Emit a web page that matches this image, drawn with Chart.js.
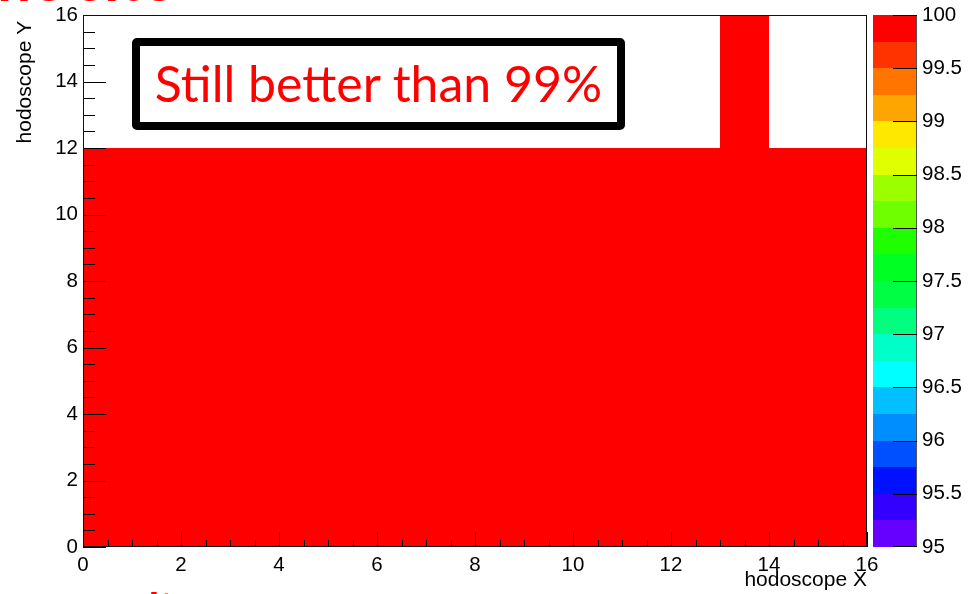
<!DOCTYPE html>
<html>
<head>
<meta charset="utf-8">
<title>Hodoscope efficiency</title>
<script src="https://cdn.jsdelivr.net/npm/chart.js@4.4.1/dist/chart.umd.min.js"></script>
<style>
  html, body { margin: 0; padding: 0; background: #fff; overflow: hidden; }
  #wrap { position: relative; width: 973px; height: 594px; overflow: hidden; }
  #c { position: absolute; left: 0; top: 0; }
  .note {
    position: absolute; left: 132px; top: 38px; width: 493px; height: 92px;
    box-sizing: border-box; border: 8px solid #000; border-radius: 5px; background: #fff;
    color: #f00; font-family: Lato, "Open Sans", sans-serif; font-size: 50px;
    line-height: 74px; text-align: center; white-space: nowrap;
  }
  .frag { position: absolute; color: #f00; font-family: Lato, sans-serif; font-weight: bold; white-space: nowrap; line-height: 1; }
</style>
</head>
<body>
<div id="wrap">
  <canvas id="c" width="973" height="594"></canvas>
  <div class="frag" style="left:-25px; top:-52px; font-size:60px;">the site</div>
  <div class="note">Still better than 99%</div>
  <div class="frag" style="left:148px; top:586px; font-size:40px;">It</div>
</div>
<script>
// Hodoscope bin edges (16 x 16 channels)
const xBinEdges = [0, 1, 2, 3, 4, 5, 6, 7, 8, 9, 10, 11, 12, 13, 14, 15, 16];
const yBinEdges = [0, 1, 2, 3, 4, 5, 6, 7, 8, 9, 10, 11, 12, 13, 14, 15, 16];

// Efficiency (%) per cell, row index = Y bin (bottom to top), column = X bin; null = no entry
const effRows = [
  [100, 100, 100, 100, 100, 100, 100, 100, 100, 100, 100, 100, 100, 100, 100, 100],
  [100, 100, 100, 100, 100, 100, 100, 100, 100, 100, 100, 100, 100, 100, 100, 100],
  [100, 100, 100, 100, 100, 100, 100, 100, 100, 100, 100, 100, 100, 100, 100, 100],
  [100, 100, 100, 100, 100, 100, 100, 100, 100, 100, 100, 100, 100, 100, 100, 100],
  [100, 100, 100, 100, 100, 100, 100, 100, 100, 100, 100, 100, 100, 100, 100, 100],
  [100, 100, 100, 100, 100, 100, 100, 100, 100, 100, 100, 100, 100, 100, 100, 100],
  [100, 100, 100, 100, 100, 100, 100, 100, 100, 100, 100, 100, 100, 100, 100, 100],
  [100, 100, 100, 100, 100, 100, 100, 100, 100, 100, 100, 100, 100, 100, 100, 100],
  [100, 100, 100, 100, 100, 100, 100, 100, 100, 100, 100, 100, 100, 100, 100, 100],
  [100, 100, 100, 100, 100, 100, 100, 100, 100, 100, 100, 100, 100, 100, 100, 100],
  [100, 100, 100, 100, 100, 100, 100, 100, 100, 100, 100, 100, 100, 100, 100, 100],
  [100, 100, 100, 100, 100, 100, 100, 100, 100, 100, 100, 100, 100, 100, 100, 100],
  [null, null, null, null, null, null, null, null, null, null, null, null, null, 100, null, null],
  [null, null, null, null, null, null, null, null, null, null, null, null, null, 100, null, null],
  [null, null, null, null, null, null, null, null, null, null, null, null, null, 100, null, null],
  [null, null, null, null, null, null, null, null, null, null, null, null, null, 100, null, null]
];

// Axis tick labels
const xTicks = [0, 2, 4, 6, 8, 10, 12, 14, 16];
const yTicks = [0, 2, 4, 6, 8, 10, 12, 14, 16];
const zTicks = [95, 95.5, 96, 96.5, 97, 97.5, 98, 98.5, 99, 99.5, 100];

// Colour scale: level edges and one colour per band (low to high)
const zLevels = [95, 95.25, 95.5, 95.75, 96, 96.25, 96.5, 96.75, 97, 97.25, 97.5,
                 97.75, 98, 98.25, 98.5, 98.75, 99, 99.25, 99.5, 99.75, 100];
const zColors = ['#6600ff', '#3300ff', '#0011ff', '#0050ff', '#008eff', '#00c0ff', '#00ffff',
                 '#00ffc8', '#00ff80', '#00ff44', '#00ff22', '#1eff00', '#70ff00', '#9cff00',
                 '#e0ff00', '#ffe800', '#ffa500', '#ff7500', '#ff3300', '#ff0000'];

function colorFor(v) {
  let k = zLevels.length - 2;
  for (let i = 0; i < zLevels.length - 1; i++) {
    if (v < zLevels[i + 1]) { k = i; break; }
  }
  return zColors[Math.max(0, k)];
}

const FONT = "'Liberation Sans', Arial, sans-serif";
Chart.defaults.font.family = FONT;
Chart.defaults.color = '#000';

function hLine(ctx, x0, x1, y) {
  const yy = Math.round(y) + 0.5;
  ctx.beginPath(); ctx.moveTo(x0, yy); ctx.lineTo(x1, yy); ctx.stroke();
}
function vLine(ctx, x, y0, y1) {
  const xx = Math.round(x) + 0.5;
  ctx.beginPath(); ctx.moveTo(xx, y0); ctx.lineTo(xx, y1); ctx.stroke();
}

// Draws the 2D histogram cells, the frame, inward tick marks and the colour bar
const histPlugin = {
  id: 'hist2d',
  beforeDatasetsDraw(chart) {
    const { ctx, scales: { x, y } } = chart;
    ctx.save();
    effRows.forEach((row, j) => {
      row.forEach((v, i) => {
        if (v === null) return;
        const x0 = Math.round(x.getPixelForValue(xBinEdges[i]));
        const x1 = Math.round(x.getPixelForValue(xBinEdges[i + 1]));
        const y0 = Math.round(y.getPixelForValue(yBinEdges[j + 1]));
        const y1 = Math.round(y.getPixelForValue(yBinEdges[j]));
        ctx.fillStyle = colorFor(v);
        ctx.fillRect(x0, y0, x1 - x0, y1 - y0);
      });
    });
    ctx.restore();
  },
  afterDraw(chart) {
    const { ctx, chartArea: a, scales: { x, y, z } } = chart;
    ctx.save();
    ctx.strokeStyle = '#000';
    ctx.lineWidth = 1;

    // tick marks pointing into the plot (major every 2, minor every 0.5)
    for (let v = 0; v <= 16.0001; v += 0.5) {
      const major = Math.abs(v / 2 - Math.round(v / 2)) < 1e-6;
      const py = y.getPixelForValue(v);
      hLine(ctx, a.left, a.left + (major ? 23 : 12), py);
      const px = x.getPixelForValue(v);
      vLine(ctx, px, a.bottom, a.bottom - (major ? 15 : 7));
    }

    // frame
    ctx.strokeStyle = '#111';
    ctx.strokeRect(Math.round(a.left) + 0.5, Math.round(a.top) + 0.5,
                   Math.round(a.right - a.left) - 1, Math.round(a.bottom - a.top) - 1);

    // colour bar
    const bl = Math.round(z.left) + 6, br = Math.round(z.left) + 50;
    for (let k = 0; k < zColors.length; k++) {
      const t = Math.round(z.getPixelForValue(zLevels[k + 1]));
      const b = Math.round(z.getPixelForValue(zLevels[k]));
      ctx.fillStyle = zColors[k];
      ctx.fillRect(bl, t, br - bl, b - t);
    }
    ctx.strokeStyle = '#555';
    vLine(ctx, br - 1, Math.round(z.getPixelForValue(100)), Math.round(z.getPixelForValue(95)));
    ctx.strokeStyle = '#000';
    zTicks.forEach(v => {
      let py = z.getPixelForValue(v);
      if (v === 95) py -= 1;
      hLine(ctx, br - 24, br, py);
    });
    ctx.restore();
  }
};

const tickFont = { family: FONT, size: 20.5 };
// invisible tick marks used only to offset the labels from the axis
const spacerGrid = (len) => ({ display: true, drawOnChartArea: false, drawTicks: true,
                               tickLength: len, color: 'rgba(0,0,0,0)' });

new Chart(document.getElementById('c'), {
  type: 'scatter',
  data: { datasets: [] },
  options: {
    responsive: false,
    animation: false,
    layout: { padding: { top: 15, left: 0, right: 0, bottom: 0 } },
    plugins: { legend: { display: false }, tooltip: { enabled: false } },
    scales: {
      x: {
        type: 'linear', position: 'bottom', min: 0, max: 16,
        afterBuildTicks: s => { s.ticks = xTicks.map(v => ({ value: v })); },
        afterFit: s => { s.height = 47; },
        grid: spacerGrid(6), border: { display: false },
        ticks: { font: tickFont, color: '#000', padding: 0, maxRotation: 0, autoSkip: false },
        title: { display: true, text: 'hodoscope X', align: 'end', color: '#000',
                 font: { family: FONT, size: 21 }, padding: { top: 0, bottom: 1 } }
      },
      y: {
        type: 'linear', position: 'left', min: 0, max: 16,
        afterBuildTicks: s => { s.ticks = yTicks.map(v => ({ value: v })); },
        afterFit: s => { s.width = 83; },
        grid: spacerGrid(5), border: { display: false },
        ticks: { font: tickFont, color: '#000', padding: 0, autoSkip: false },
        title: { display: true, text: 'hodoscope Y ', align: 'end', color: '#000',
                 font: { family: FONT, size: 21 }, padding: { top: 13, bottom: 0 } }
      },
      z: {
        type: 'linear', position: 'right', min: 95, max: 100,
        afterBuildTicks: s => { s.ticks = zTicks.map(v => ({ value: v })); },
        afterFit: s => { s.width = 106; },
        grid: spacerGrid(55), border: { display: false },
        ticks: { font: tickFont, color: '#000', padding: 0, autoSkip: false,
                 callback: v => String(Math.round(v * 10) / 10) }
      }
    }
  },
  plugins: [histPlugin]
});
</script>
</body>
</html>
